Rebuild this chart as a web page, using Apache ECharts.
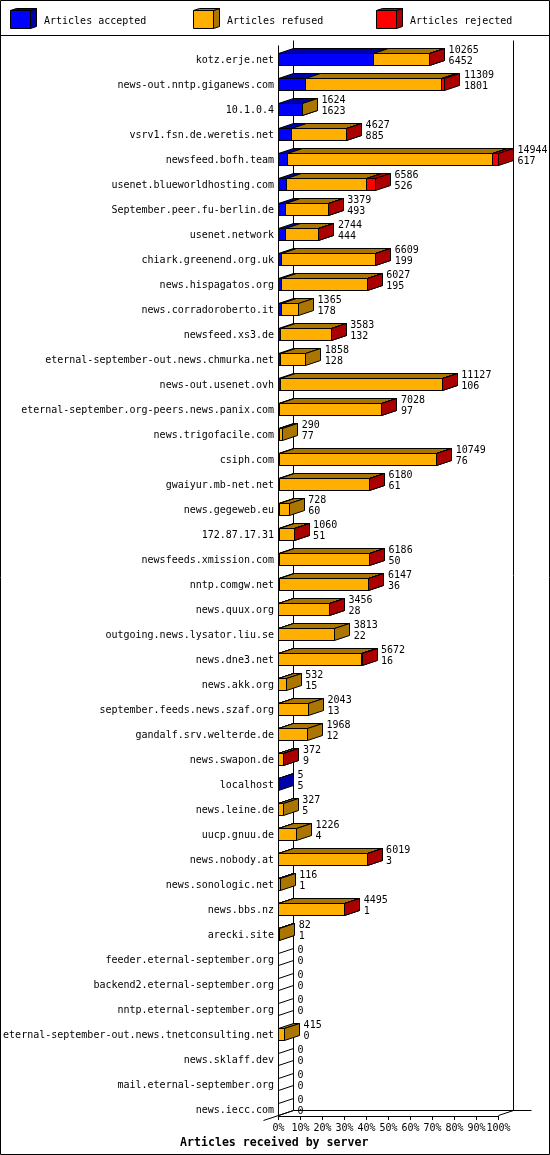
<!DOCTYPE html>
<html>
<head>
<meta charset="utf-8">
<script src="https://cdn.jsdelivr.net/npm/echarts@6/dist/echarts.min.js"></script>
<style>html,body{margin:0;padding:0;background:#fff}#c{width:550px;height:1155px}</style>
</head>
<body>
<div id="c"></div>
<script>
const categories = ["kotz.erje.net","news-out.nntp.giganews.com","10.1.0.4","vsrv1.fsn.de.weretis.net","newsfeed.bofh.team","usenet.blueworldhosting.com","September.peer.fu-berlin.de","usenet.network","chiark.greenend.org.uk","news.hispagatos.org","news.corradoroberto.it","newsfeed.xs3.de","eternal-september-out.news.chmurka.net","news-out.usenet.ovh","eternal-september.org-peers.news.panix.com","news.trigofacile.com","csiph.com","gwaiyur.mb-net.net","news.gegeweb.eu","172.87.17.31","newsfeeds.xmission.com","nntp.comgw.net","news.quux.org","outgoing.news.lysator.liu.se","news.dne3.net","news.akk.org","september.feeds.news.szaf.org","gandalf.srv.welterde.de","news.swapon.de","localhost","news.leine.de","uucp.gnuu.de","news.nobody.at","news.sonologic.net","news.bbs.nz","arecki.site","feeder.eternal-september.org","backend2.eternal-september.org","nntp.eternal-september.org","eternal-september-out.news.tnetconsulting.net","news.sklaff.dev","mail.eternal-september.org","news.iecc.com"];
const totals   = [10265,11309,1624,4627,14944,6586,3379,2744,6609,6027,1365,3583,1858,11127,7028,290,10749,6180,728,1060,6186,6147,3456,3813,5672,532,2043,1968,372,5,327,1226,6019,116,4495,82,0,0,0,415,0,0,0];
const accepted = [6452,1801,1623,885,617,526,493,444,199,195,178,132,128,106,97,77,76,61,60,51,50,36,28,22,16,15,13,12,9,5,5,4,3,1,1,1,0,0,0,0,0,0,0];
const refused  = [3773,9248,1,3722,13927,5440,2871,2285,6400,5822,1187,3441,1730,11011,6921,213,10643,6109,668,1004,6121,6096,3418,3791,5648,517,2030,1956,347,0,322,1222,6010,115,4489,81,0,0,0,415,0,0,0];
const rejected = [40,260,0,20,400,620,15,15,10,10,0,10,0,10,10,0,30,10,0,5,15,15,10,0,8,0,0,0,16,0,0,0,6,0,5,0,0,0,0,0,0,0,0];
const seriesNames = ["Articles accepted","Articles refused","Articles rejected"];
const frontColors = ["#0000ff","#ffaf00","#ff0000"];
const darkColors  = ["#0000aa","#aa7500","#aa0000"];
const xMax = 14944;
const xTicks = 10;

const FONT = '"DejaVu Sans Mono", monospace';
const DX = 15, DY = -5, HALF = 6;
const snap = v => Math.round(v - 0.5) + 0.5;

function poly(points, fill) {
  return { type: 'polygon', shape: { points }, style: { fill, stroke: '#000', lineWidth: 1 } };
}
function line(x1, y1, x2, y2) {
  return { type: 'line', shape: { x1, y1, x2, y2 }, style: { stroke: '#000', lineWidth: 1, fill: null } };
}
function rowY(api, idx) {
  return snap(api.coord([0, idx])[1]);
}

function segmentRender(k) {
  return function (params, api) {
    const idx = api.value(0), a = api.value(1), b = api.value(2);
    if (b <= a) return null;
    const c = rowY(api, idx);
    const x1 = snap(api.coord([a, idx])[0]), x2 = snap(api.coord([b, idx])[0]);
    const t = c - HALF, btm = c + HALF;
    return { type: 'group', children: [
      poly([[x1, t], [x2, t], [x2 + DX, t + DY], [x1 + DX, t + DY]], darkColors[k]),
      poly([[x2, t], [x2 + DX, t + DY], [x2 + DX, btm + DY], [x2, btm]], darkColors[k]),
      poly([[x1, t], [x2, t], [x2, btm], [x1, btm]], frontColors[k])
    ]};
  };
}

function wallRender(params, api) {
  const n = categories.length;
  const x0 = snap(api.coord([0, 0])[0]);
  const x100 = snap(api.coord([xMax, 0])[0]);
  const first = rowY(api, 0), last = rowY(api, n - 1);
  const top = first - 2 * HALF - 2, floor = last + HALF;
  const kids = [
    line(x0, top, x0, floor),
    line(x0 + DX, top + DY, x0 + DX, floor + DY),
    line(x100 + DX, top + DY, x100 + DX, floor + DY),
    line(x0 + DX, floor + DY, x100 + 33, floor + DY),
    line(x0 - DX, floor - DY, x0 + DX, floor + DY),
    line(x100, floor, x100 + DX, floor + DY)
  ];
  totals.forEach((v, i) => {
    if (v !== 0) return;
    const c = rowY(api, i);
    kids.push(line(x0, c - HALF, x0 + DX, c - HALF + DY));
    kids.push(line(x0, c + HALF, x0 + DX, c + HALF + DY));
  });
  return { type: 'group', children: kids };
}

function labelRender(params, api) {
  const idx = api.value(0);
  const p = api.coord([totals[idx], idx]);
  const x = p[0] + DX + 4, c = rowY(api, idx);
  const st = (text, y) => ({ type: 'text', x, y,
    style: { text: String(text), fill: '#000', font: '10px ' + FONT, textAlign: 'left', textVerticalAlign: 'middle' } });
  return { type: 'group', children: [st(totals[idx], c - 9.5), st(accepted[idx], c + 1.5)] };
}

const stacks = categories.map(() => 0);
const segSeries = [accepted, refused, rejected].map((arr, k) => {
  const data = arr.map((v, i) => { const s = stacks[i]; stacks[i] += v; return [i, s, stacks[i]]; });
  return {
    type: 'custom', name: seriesNames[k], clip: false, renderItem: segmentRender(k),
    itemStyle: { color: frontColors[k] }, encode: { x: [1, 2], y: 0 }, data
  };
});

function cube(x, k) {
  const f = 10, w = 20, h = 18, dx = 6, dy = -2;
  return [
    { type: 'polygon', silent: true, shape: { points: [[x + w, f + 0.5], [x + w + dx, f + 0.5 + dy], [x + w + dx, f + 0.5 + h + dy], [x + w, f + 0.5 + h]] },
      style: { fill: darkColors[k], stroke: '#000', lineWidth: 1 } },
    { type: 'polygon', silent: true, shape: { points: [[x, f + 0.5], [x + w, f + 0.5], [x + w + dx, f + 0.5 + dy], [x + dx, f + 0.5 + dy]] },
      style: { fill: darkColors[k], stroke: '#000', lineWidth: 1 } },
    { type: 'rect', silent: true, shape: { x, y: f + 0.5, width: w, height: h },
      style: { fill: frontColors[k], stroke: '#000', lineWidth: 1 } }
  ];
}

const legendLeft = [10, 193, 376];
const chart = echarts.init(document.getElementById('c'), null, { renderer: 'canvas', width: 550, height: 1155 });
chart.setOption({
  animation: false,
  backgroundColor: '#fff',
  title: { text: 'Articles received by server', left: 180, top: 1137, padding: 0,
    textStyle: { fontFamily: FONT, fontSize: 11.6, fontWeight: 'bold', color: '#000' } },
  legend: seriesNames.map((name, k) => ({
    left: legendLeft[k], top: 12, padding: 0, itemWidth: 20, itemHeight: 19, selectedMode: false,
    icon: 'rect',
    data: [{ name, itemStyle: { color: 'transparent', borderWidth: 0 } }],
    textStyle: { fontFamily: FONT, fontSize: 10, color: '#000', padding: [0, 0, 0, 9] }
  })),
  grid: { left: 278.5, width: 220, top: 47, height: 1075, containLabel: false },
  xAxis: {
    type: 'value', min: 0, max: xMax, interval: xMax / xTicks, position: 'bottom', offset: -6,
    axisLine: { show: true, lineStyle: { color: '#000', width: 1 } },
    axisTick: { show: true, length: 4, lineStyle: { color: '#000', width: 1 } },
    splitLine: { show: false },
    axisLabel: { color: '#000', fontFamily: FONT, fontSize: 10, margin: 7, showMinLabel: true, showMaxLabel: true,
      hideOverlap: false,
      formatter: v => Math.round(v / xMax * 100) + '%' }
  },
  yAxis: {
    type: 'category', inverse: true, data: categories,
    axisLine: { show: false }, axisTick: { show: false }, splitLine: { show: false },
    axisLabel: { interval: 0, color: '#000', fontFamily: FONT, fontSize: 10, margin: 4.5, hideOverlap: false,
      formatter: v => '{t|' + v + '}',
      rich: { t: { fontFamily: FONT, fontSize: 10, color: '#000', padding: [2, 0, 0, 0] } } }
  },
  graphic: { elements: [
    { type: 'rect', silent: true, z: 100, shape: { x: 0.5, y: 0.5, width: 549, height: 1154 }, style: { fill: null, stroke: '#000', lineWidth: 1 } },
    { type: 'line', silent: true, shape: { x1: 0, y1: 35.5, x2: 550, y2: 35.5 }, style: { stroke: '#000', lineWidth: 1 } },
    ...cube(10.5, 0), ...cube(193.5, 1), ...cube(376.5, 2)
  ]},
  series: [
    { type: 'custom', name: 'walls', clip: false, silent: true, renderItem: wallRender, encode: { x: 1, y: 0 }, data: [[0, 0]] },
    ...segSeries,
    { type: 'custom', name: 'values', clip: false, silent: true, renderItem: labelRender, encode: { x: 1, y: 0 },
      data: totals.map((v, i) => [i, v]) }
  ]
});
</script>
</body>
</html>
